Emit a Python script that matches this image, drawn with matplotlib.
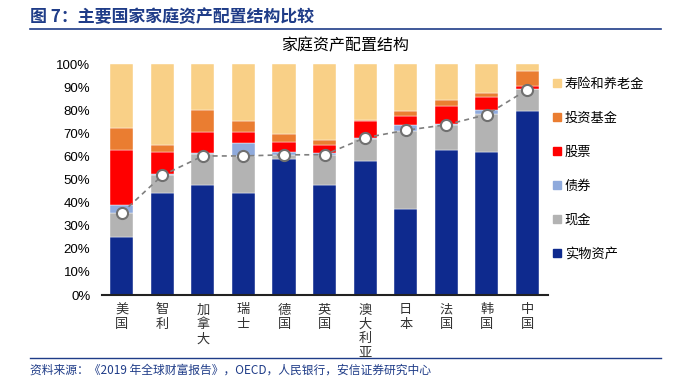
import numpy as np
import matplotlib
matplotlib.use("Agg")
import matplotlib.pyplot as plt
from matplotlib.lines import Line2D

plt.rcParams['font.family'] = ['Noto Sans CJK SC', 'DejaVu Sans']

# data
countries = ['美国', '智利', '加拿大', '瑞士', '德国', '英国', '澳大利亚', '日本', '法国', '韩国', '中国']
real_asset = [25.3, 44.0, 47.6, 44.0, 58.7, 47.6, 58.2, 37.2, 62.9, 62.0, 79.8]
cash = [10.1, 7.9, 13.3, 16.2, 1.9, 12.9, 9.2, 33.8, 10.7, 16.4, 9.4]
bonds = [3.6, 0.4, 0.4, 5.5, 1.4, 0.8, 0.4, 2.6, 0.6, 1.7, 0.0]
stocks = [23.9, 9.7, 9.4, 5.0, 4.1, 3.6, 7.7, 4.0, 7.8, 5.8, 1.4]
funds = [9.4, 2.9, 9.4, 4.8, 3.6, 2.2, 0.3, 2.2, 2.4, 1.7, 6.5]
insurance = [27.7, 35.1, 19.9, 24.5, 30.3, 32.9, 24.2, 20.2, 15.6, 12.4, 2.9]
dots = [35.5, 51.8, 60.2, 60.2, 60.7, 60.7, 68.1, 71.3, 73.7, 78.1, 88.9]

series = [
    ('实物资产', real_asset, '#0E2A8E'),
    ('现金', cash, '#B3B3B3'),
    ('债券', bonds, '#8FAADC'),
    ('股票', stocks, '#FF0000'),
    ('投资基金', funds, '#EA7D31'),
    ('寿险和养老金', insurance, '#F9D087'),
]

title_blue = '#1F3C88'

fig = plt.figure(figsize=(6.94, 3.79), dpi=100)
ax = fig.add_axes([0.1463, 0.2216, 0.6427, 0.6095])

x = np.arange(len(countries))
bottom = np.zeros(len(countries))
handles = []
for name, vals, color in series:
    vals = np.array(vals)
    ax.bar(x, vals, 0.57, bottom=bottom, color=color, edgecolor='white', linewidth=0.3)
    bottom += vals
    handles.append(Line2D([], [], marker='s', linestyle='none', markersize=6,
                          markerfacecolor=color, markeredgecolor=color, label=name))

ax.plot(x, dots, linestyle=(0, (3, 2.5)), color='#7F7F7F', linewidth=1.2,
        marker='o', markersize=8, markerfacecolor='white', markeredgecolor='#707070',
        markeredgewidth=1.5, zorder=5)

ax.set_xlim(-0.5, len(countries) - 0.5)
ax.set_ylim(0, 100)
ax.set_yticks(np.arange(0, 101, 10))
ax.set_yticklabels([f'{v}%' for v in range(0, 101, 10)], family='Liberation Sans', fontsize=9.5)
ax.set_xticks(x)
ax.set_xticklabels(['\n'.join(c) for c in countries], fontsize=9.5, va='top',
                   linespacing=1.15, color='#333333')
ax.tick_params(axis='both', length=0)
ax.tick_params(axis='y', pad=8)
ax.tick_params(axis='x', pad=6)
for s in ['top', 'right', 'left']:
    ax.spines[s].set_visible(False)
ax.spines['bottom'].set_linewidth(1.5)
ax.spines['bottom'].set_color('#222222')

fig.legend(handles=handles[::-1], loc='upper left', bbox_to_anchor=(0.785, 0.808),
           frameon=False, fontsize=9.5, labelspacing=1.58, handletextpad=0.1,
           handlelength=1.0, borderaxespad=0)

ax.set_title('家庭资产配置结构', fontsize=11.5, pad=10, x=0.545)

fig.text(0.043, 0.955, '图 7：主要国家家庭资产配置结构比较', fontsize=12.2, fontweight='bold',
         color=title_blue, va='center', ha='left')
fig.add_artist(Line2D([0.043, 0.952], [0.923, 0.923], color=title_blue, linewidth=1.2))
fig.add_artist(Line2D([0.043, 0.952], [0.055, 0.055], color=title_blue, linewidth=1.0))
fig.text(0.043, 0.024, '资料来源：《2019 年全球财富报告》，OECD，人民银行，安信证券研究中心',
         fontsize=8.5, color=title_blue, style='italic', va='center', ha='left')

fig.savefig('out.png', dpi=100)
